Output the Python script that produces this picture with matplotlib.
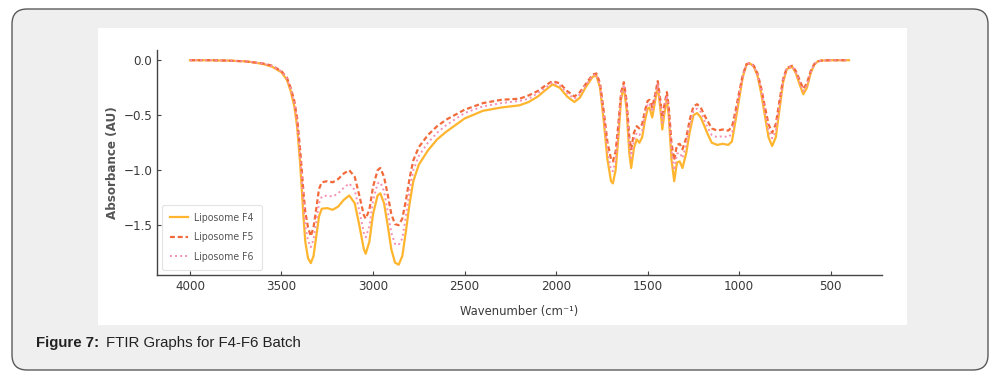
import matplotlib
matplotlib.use("Agg")
import matplotlib.pyplot as plt
from matplotlib import font_manager
from matplotlib.patches import FancyBboxPatch, Rectangle

# Wavenumbers (cm-1) and absorbance
wavenumber = [
    4000, 3900, 3800, 3700, 3650, 3600, 3550, 3500, 3470, 3450, 3430, 3415,
    3400, 3390, 3380, 3370, 3355, 3340, 3325, 3310, 3295, 3280, 3250, 3220,
    3190, 3160, 3130, 3100, 3075, 3050, 3040, 3020, 3000, 2975, 2960, 2940,
    2920, 2900, 2880, 2860, 2840, 2820, 2800, 2780, 2750, 2700, 2650, 2600,
    2500, 2400, 2300, 2200, 2150, 2100, 2050, 2020, 1980, 1940, 1900, 1870,
    1840, 1800, 1780, 1760, 1740, 1720, 1700, 1690, 1675, 1660, 1645, 1630,
    1615, 1600, 1590, 1575, 1560, 1545, 1530, 1515, 1500, 1490, 1475, 1460,
    1445, 1430, 1420, 1410, 1395, 1385, 1370, 1355, 1340, 1325, 1310, 1290,
    1270, 1250, 1230, 1210, 1190, 1170, 1150, 1120, 1090, 1060, 1040, 1020,
    1000, 980, 960, 940, 920, 900, 880, 860, 840, 820, 800, 780,
    760, 740, 710, 690, 670, 650, 630, 610, 590, 570, 550, 500,
    450, 400,
]

f4 = [
    0.0, 0.0, -0.003, -0.01, -0.02, -0.035, -0.06, -0.11, -0.18, -0.28, -0.42, -0.60,
    -0.90, -1.15, -1.42, -1.65, -1.80, -1.845, -1.78, -1.60, -1.42, -1.35, -1.345, -1.36,
    -1.33, -1.27, -1.23, -1.30, -1.50, -1.72, -1.76, -1.65, -1.40, -1.23, -1.21, -1.30,
    -1.50, -1.72, -1.84, -1.86, -1.78, -1.55, -1.30, -1.10, -0.95, -0.82, -0.72, -0.65,
    -0.53, -0.46, -0.43, -0.41, -0.38, -0.33, -0.26, -0.22, -0.25, -0.33, -0.38, -0.34,
    -0.25, -0.15, -0.14, -0.25, -0.55, -0.90, -1.10, -1.12, -1.00, -0.70, -0.35, -0.24,
    -0.45, -0.85, -0.98, -0.80, -0.72, -0.75, -0.70, -0.55, -0.44, -0.43, -0.52, -0.38,
    -0.23, -0.45, -0.63, -0.50, -0.35, -0.50, -0.90, -1.10, -0.93, -0.92, -0.98, -0.85,
    -0.65, -0.50, -0.48, -0.52, -0.60, -0.68, -0.75, -0.77, -0.76, -0.77, -0.74, -0.55,
    -0.35, -0.15, -0.04, -0.03, -0.06, -0.14, -0.30, -0.50, -0.70, -0.78, -0.70, -0.45,
    -0.20, -0.08, -0.06, -0.12, -0.22, -0.31, -0.25, -0.12, -0.04, -0.01, -0.003, 0.0,
    0.0, 0.0,
]

f5 = [
    0.0, 0.0, -0.003, -0.01, -0.02, -0.03, -0.05, -0.10, -0.16, -0.25, -0.37, -0.52,
    -0.78, -0.98, -1.20, -1.38, -1.52, -1.60, -1.52, -1.35, -1.17, -1.11, -1.10, -1.11,
    -1.08, -1.03, -1.00, -1.06, -1.23, -1.41, -1.44, -1.36, -1.15, -1.00, -0.98, -1.06,
    -1.22, -1.40, -1.49, -1.50, -1.44, -1.27, -1.07, -0.91, -0.79, -0.68, -0.60, -0.54,
    -0.45, -0.39, -0.36, -0.35, -0.32, -0.28, -0.22, -0.19, -0.21, -0.28, -0.33, -0.29,
    -0.22, -0.13, -0.12, -0.21, -0.46, -0.74, -0.90, -0.92, -0.83, -0.58, -0.29, -0.20,
    -0.37, -0.70, -0.81, -0.66, -0.60, -0.62, -0.58, -0.46, -0.37, -0.36, -0.43, -0.32,
    -0.19, -0.37, -0.52, -0.42, -0.29, -0.42, -0.75, -0.91, -0.77, -0.76, -0.81, -0.71,
    -0.54, -0.42, -0.40, -0.43, -0.50, -0.56, -0.62, -0.64, -0.63, -0.64, -0.61, -0.46,
    -0.29, -0.13, -0.035, -0.025, -0.05, -0.12, -0.25, -0.42, -0.58, -0.66, -0.58, -0.37,
    -0.17, -0.07, -0.05, -0.10, -0.18, -0.26, -0.21, -0.10, -0.035, -0.01, -0.003, 0.0,
    0.0, 0.0,
]

f6 = [
    0.0, 0.0, -0.003, -0.01, -0.02, -0.03, -0.055, -0.10, -0.17, -0.26, -0.39, -0.56,
    -0.83, -1.06, -1.30, -1.51, -1.64, -1.70, -1.63, -1.47, -1.30, -1.24, -1.23, -1.24,
    -1.21, -1.16, -1.12, -1.18, -1.37, -1.57, -1.61, -1.51, -1.28, -1.12, -1.11, -1.19,
    -1.37, -1.57, -1.67, -1.68, -1.62, -1.41, -1.18, -1.00, -0.87, -0.75, -0.66, -0.59,
    -0.48, -0.42, -0.39, -0.37, -0.35, -0.30, -0.24, -0.20, -0.23, -0.30, -0.35, -0.31,
    -0.23, -0.14, -0.13, -0.23, -0.50, -0.82, -1.00, -1.01, -0.91, -0.64, -0.32, -0.22,
    -0.41, -0.77, -0.89, -0.73, -0.66, -0.68, -0.64, -0.50, -0.40, -0.39, -0.47, -0.35,
    -0.21, -0.41, -0.57, -0.46, -0.32, -0.46, -0.82, -1.00, -0.85, -0.84, -0.89, -0.77,
    -0.59, -0.46, -0.44, -0.47, -0.55, -0.62, -0.68, -0.70, -0.69, -0.70, -0.67, -0.50,
    -0.32, -0.14, -0.037, -0.027, -0.055, -0.13, -0.27, -0.46, -0.64, -0.71, -0.64, -0.41,
    -0.18, -0.07, -0.055, -0.11, -0.20, -0.28, -0.23, -0.11, -0.037, -0.01, -0.003, 0.0,
    0.0, 0.0,
]

labels = ["Liposome F4", "Liposome F5", "Liposome F6"]
caption_bold = "Figure 7:"
caption_text = "FTIR Graphs for F4-F6 Batch"

# narrow font for the chart texts (DejaVu Sans Condensed if it is there)
installed = {f.name for f in font_manager.fontManager.ttflist}
narrow_names = [n for n in ["Liberation Sans Narrow", "DejaVu Sans"] if n in installed]
narrow = font_manager.FontProperties(family=narrow_names, stretch="condensed")

W, H = 1008, 379
fig = plt.figure(figsize=(W / 100, H / 100), dpi=100)
fig.patch.set_facecolor("white")

# outer rounded card and inner white panel (pixel coords), kept behind the axes
card = FancyBboxPatch((12 / W, 1 - 370 / H), 976 / W, 361 / H,
                      boxstyle="round,pad=0,rounding_size=0.015",
                      transform=fig.transFigure, facecolor="#efefef",
                      edgecolor="#5a5a5a", linewidth=1.0, mutation_aspect=W / H,
                      zorder=-10)
fig.patches.append(card)
panel = Rectangle((98 / W, 1 - 325 / H), 809 / W, 297 / H,
                  transform=fig.transFigure, facecolor="white", edgecolor="none",
                  zorder=-9)
fig.patches.append(panel)

ax = fig.add_axes([157 / W, 1 - 275 / H, 725 / W, 225 / H])
ax.set_facecolor("none")

ax.plot(wavenumber, f4, color="#ffb52e", lw=1.6, ls="-", label=labels[0])
ax.plot(wavenumber, f5, color="#f26a3a", lw=1.6, ls=(0, (2.2, 1.3)), label=labels[1])
ax.plot(wavenumber, f6, color="#f58fb5", lw=1.4, ls=(0, (1, 1.6)), label=labels[2])

ax.invert_xaxis()
ax.set_xticks([4000, 3500, 3000, 2500, 2000, 1500, 1000, 500])
ax.set_yticks([0.0, -0.5, -1.0, -1.5])

for s in ["top", "right"]:
    ax.spines[s].set_visible(False)
for s in ["left", "bottom"]:
    ax.spines[s].set_color("#444444")
    ax.spines[s].set_linewidth(1.0)

ax.tick_params(direction="in", length=3, width=0.8, color="#444444",
               labelcolor="#3a3a3a")
for lab in ax.get_xticklabels() + ax.get_yticklabels():
    lab.set_fontproperties(narrow)
    lab.set_fontsize(9.5)

ax.set_xlabel("Wavenumber (cm\u207b\u00b9)", fontproperties=narrow, fontsize=9.3,
              color="#3a3a3a")
ax.xaxis.set_label_coords(0.5, -0.135)
ax.set_ylabel("Absorbance (AU)", fontproperties=narrow, fontsize=9.5, color="#555555",
              fontweight="bold")
ax.yaxis.set_label_coords(-0.052, 0.5)

leg_font = narrow.copy()
leg_font.set_size(7.6)
leg = ax.legend(loc="lower left", frameon=True, handlelength=1.7, handletextpad=0.6,
                borderpad=0.75, labelspacing=0.9, prop=leg_font)
leg.get_frame().set_edgecolor("#dddddd")
leg.get_frame().set_linewidth(0.8)
for t in leg.get_texts():
    t.set_color("#555555")

fig.text(36 / W, 1 - 343 / H, caption_bold, fontsize=10.8, fontweight="bold",
         family="Liberation Sans", color="#222222", va="center")
fig.text(106 / W, 1 - 343 / H, caption_text, fontsize=10.8,
         family="Liberation Sans", color="#222222", va="center")

fig.savefig("out.png", dpi=100)
